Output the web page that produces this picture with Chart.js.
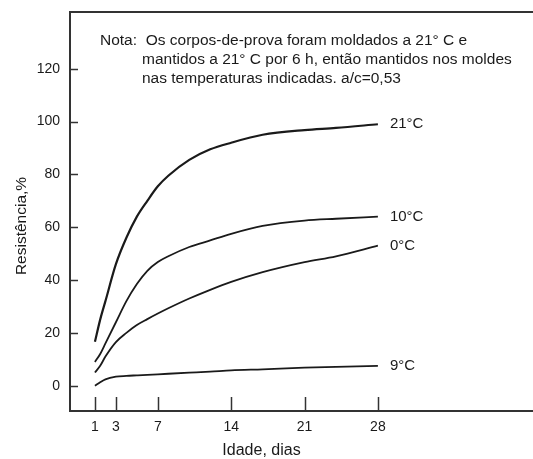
<!DOCTYPE html>
<html><head><meta charset="utf-8">
<script src="https://cdn.jsdelivr.net/npm/chart.js@4"></script>
<style>html,body{margin:0;padding:0;background:#fff;overflow:hidden}</style>
</head><body>
<canvas id="c" width="533" height="459"></canvas>
<script>
const days = [1, 1.5, 2, 3, 4, 5, 6, 7, 8, 10, 12, 14, 17, 21, 24, 28];
const s21 = [16.6, 25, 32, 46, 56, 64, 70, 75.5, 79.5, 85.5, 89.5, 92, 95, 96.8, 97.6, 99];
const s10 = [9, 12, 16, 24, 32, 38.5, 43.5, 46.8, 49, 52.5, 55, 57.5, 60.5, 62.5, 63.2, 64];
const s0 = [5, 7.5, 11, 16.5, 20, 23, 25.2, 27.3, 29.3, 33, 36.3, 39.3, 43, 46.8, 49, 53];
const s9 = [0, 1.3, 2.4, 3.4, 3.7, 3.9, 4.1, 4.3, 4.5, 4.9, 5.3, 5.8, 6.2, 6.8, 7.1, 7.5];
const seriesLabels = ['21°C', '10°C', '0°C', '9°C'];
const xTicks = [1, 3, 7, 14, 21, 28];
const yTicks = [0, 20, 40, 60, 80, 100, 120];
const xTitle = 'Idade, dias';
const yTitle = 'Resistência,%';
const noteLines = [
  'Nota:  Os corpos-de-prova foram moldados a 21° C e',
  'mantidos a 21° C por 6 h, então mantidos nos moldes',
  'nas temperaturas indicadas. a/c=0,53'
];

const FONT = "'Liberation Sans', Arial, sans-serif";
const INK = '#1a1a1a';

function mk(label, vals, w) {
  return {
    label: label,
    data: days.map((d, i) => ({x: d, y: vals[i]})),
    borderColor: INK,
    borderWidth: w,
    pointRadius: 0,
    fill: false,
    cubicInterpolationMode: 'monotone'
  };
}

const decor = {
  id: 'decor',
  afterDraw(chart) {
    const {ctx, chartArea: a, scales: {x, y}} = chart;
    ctx.save();
    ctx.strokeStyle = '#333';
    ctx.lineWidth = 2;
    ctx.beginPath();
    ctx.moveTo(a.left, a.top);
    ctx.lineTo(a.right, a.top);
    ctx.stroke();
    ctx.lineWidth = 1.5;
    xTicks.forEach(v => {
      const px = Math.round(x.getPixelForValue(v)) + 0.5;
      ctx.beginPath();
      ctx.moveTo(px, a.bottom);
      ctx.lineTo(px, a.bottom - 14);
      ctx.stroke();
    });
    yTicks.forEach(v => {
      const py = Math.round(y.getPixelForValue(v)) + 0.5;
      ctx.beginPath();
      ctx.moveTo(a.left, py);
      ctx.lineTo(a.left + 8, py);
      ctx.stroke();
    });
    ctx.fillStyle = INK;
    ctx.font = '15px ' + FONT;
    ctx.textBaseline = 'middle';
    ctx.textAlign = 'left';
    chart.data.datasets.forEach((ds, i) => {
      const pts = chart.getDatasetMeta(i).data;
      const p = pts[pts.length - 1];
      ctx.fillText(seriesLabels[i], p.x + 12, p.y);
    });
    ctx.font = '15.5px ' + FONT;
    ctx.textBaseline = 'alphabetic';
    ctx.fillText(noteLines[0], 100, 44.5);
    ctx.fillText(noteLines[1], 142, 63.5);
    ctx.fillText(noteLines[2], 142, 82.5);
    ctx.font = '16px ' + FONT;
    ctx.textAlign = 'center';
    ctx.textBaseline = 'middle';
    ctx.fillText(xTitle, 261.5, 451);
    ctx.save();
    ctx.translate(22, 226);
    ctx.rotate(-Math.PI / 2);
    ctx.font = '15.5px ' + FONT;
    ctx.fillText(yTitle, 0, 0);
    ctx.restore();
    ctx.restore();
  }
};

new Chart(document.getElementById('c'), {
  type: 'line',
  data: {
    datasets: [mk(seriesLabels[0], s21, 2.2), mk(seriesLabels[1], s10, 1.8), mk(seriesLabels[2], s0, 1.8), mk(seriesLabels[3], s9, 1.8)]
  },
  options: {
    responsive: false,
    animation: false,
    devicePixelRatio: 1,
    layout: {padding: {top: 12, right: 0, left: 0, bottom: 0}},
    plugins: {legend: {display: false}, tooltip: {enabled: false}},
    scales: {
      x: {
        type: 'linear',
        min: -1.38,
        max: 42.8,
        afterBuildTicks: s => { s.ticks = xTicks.map(v => ({value: v})); },
        afterFit: s => { s.height = 48; s.paddingLeft = 0; s.paddingRight = 0; },
        grid: {display: false, drawTicks: false},
        border: {display: true, color: '#333', width: 2},
        ticks: {autoSkip: false, maxRotation: 0, padding: 8, color: INK, font: {family: FONT, size: 14}, callback: v => String(v)}
      },
      y: {
        type: 'linear',
        min: -9.6,
        max: 141.5,
        afterBuildTicks: s => { s.ticks = yTicks.map(v => ({value: v})); },
        afterFit: s => { s.width = 70; s.paddingTop = 0; s.paddingBottom = 0; },
        grid: {display: false, drawTicks: false},
        border: {display: true, color: '#333', width: 2},
        ticks: {padding: 10, color: INK, font: {family: FONT, size: 14}, callback: v => String(v)}
      }
    }
  },
  plugins: [decor]
});
</script>
</body></html>
